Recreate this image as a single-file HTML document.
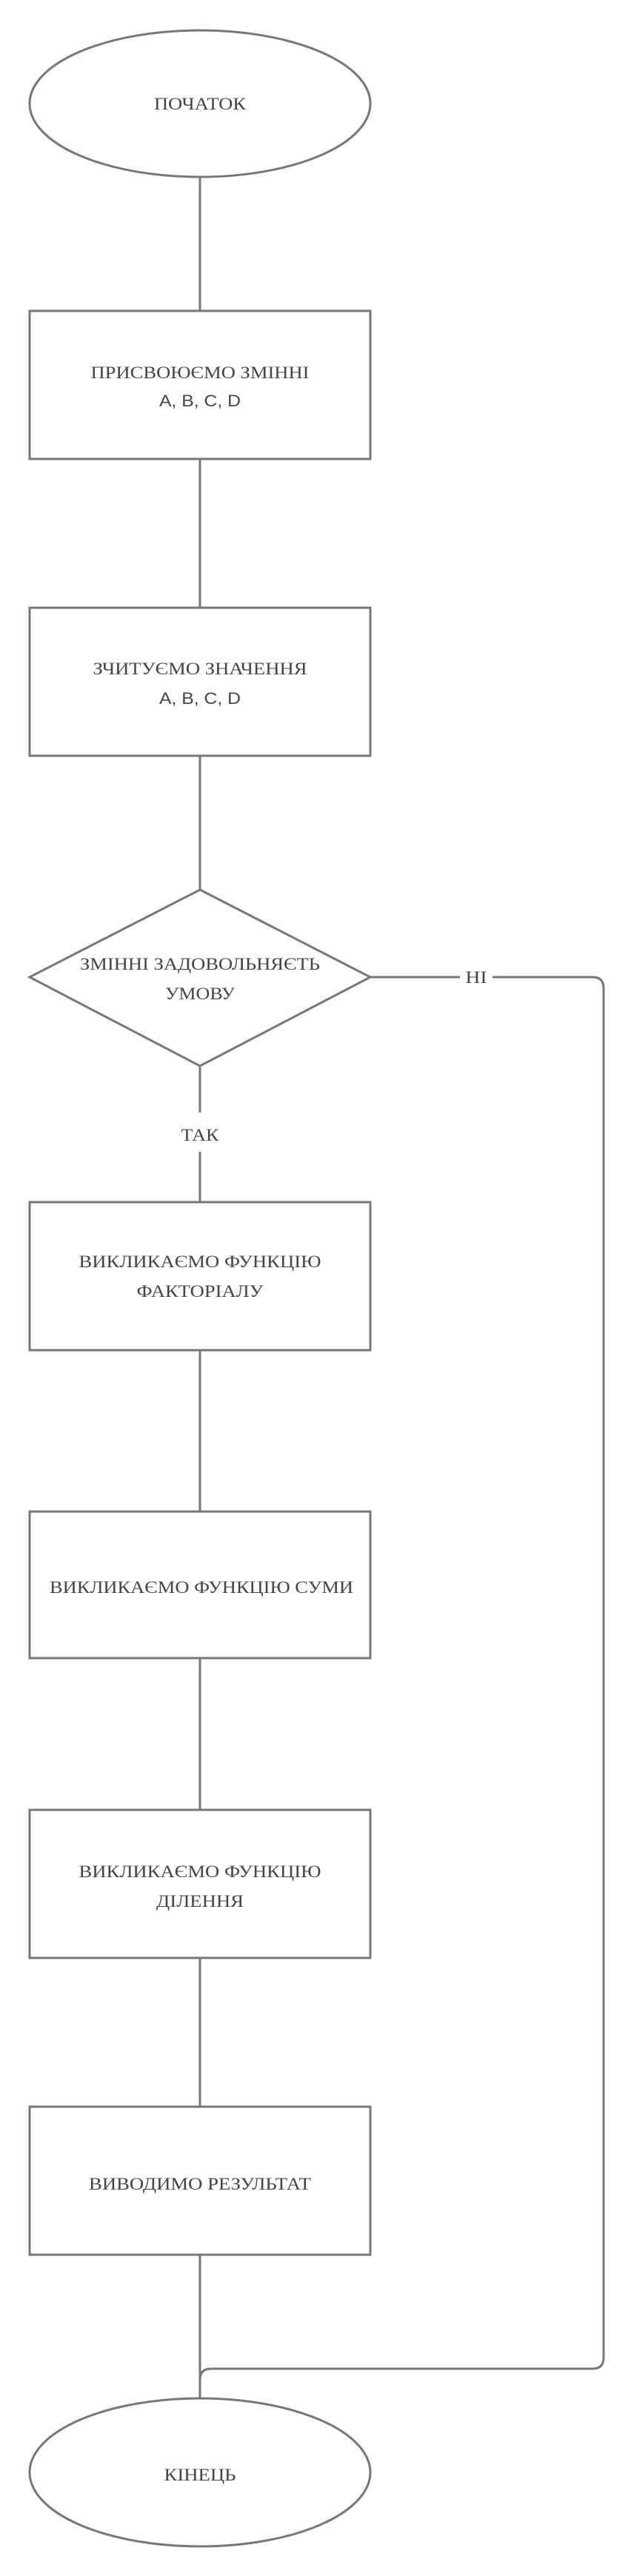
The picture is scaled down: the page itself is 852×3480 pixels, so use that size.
<!DOCTYPE html>
<html><head><meta charset="utf-8"><style>
html,body{margin:0;padding:0;background:#fff;}
svg{display:block;}
.s{fill:#fff;stroke:#777;stroke-width:3;}
.l{fill:none;stroke:#777;stroke-width:3;}
text{font-family:"Liberation Serif",serif;font-size:23px;fill:#444;text-anchor:middle;}
.sans{font-family:"Liberation Sans",sans-serif;font-size:22px;}
</style></head><body>
<svg width="852" height="3480" viewBox="0 0 852 3480" xmlns="http://www.w3.org/2000/svg">
<!-- connectors -->
<path class="l" d="M270 240V420 M270 620V821 M270 1021V1202 M270 1440V1503 M270 1556V1624 M270 1824V2042 M270 2240V2445 M270 2645V2846 M270 3046V3242"/>
<path class="l" d="M500 1320H621 M665 1320H800 Q815 1320 815 1335 V3185 Q815 3200 800 3200 H285 Q270 3200 270 3215"/>
<!-- shapes -->
<ellipse class="s" cx="270" cy="140" rx="230" ry="99"/>
<rect class="s" x="40" y="420" width="460" height="200"/>
<rect class="s" x="40" y="821" width="460" height="200"/>
<polygon class="s" points="270,1202 500,1320 270,1440 40,1320"/>
<rect class="s" x="40" y="1624" width="460" height="200"/>
<rect class="s" x="40" y="2042" width="460" height="198"/>
<rect class="s" x="40" y="2445" width="460" height="200"/>
<rect class="s" x="40" y="2846" width="460" height="200"/>
<ellipse class="s" cx="270" cy="3340" rx="230" ry="100"/>
<!-- labels -->
<text x="270" y="148" textLength="124" lengthAdjust="spacingAndGlyphs">ПОЧАТОК</text>
<text x="270" y="511" textLength="295" lengthAdjust="spacingAndGlyphs">ПРИСВОЮЄМО ЗМІННІ</text>
<text class="sans" x="270" y="549" textLength="110" lengthAdjust="spacingAndGlyphs">A, B, C, D</text>
<text x="270" y="911" textLength="289" lengthAdjust="spacingAndGlyphs">ЗЧИТУЄМО ЗНАЧЕННЯ</text>
<text class="sans" x="270" y="951" textLength="110" lengthAdjust="spacingAndGlyphs">A, B, C, D</text>
<text x="270" y="1310" textLength="324" lengthAdjust="spacingAndGlyphs">ЗМІННІ ЗАДОВОЛЬНЯЄТЬ</text>
<text x="270" y="1350" textLength="94" lengthAdjust="spacingAndGlyphs">УМОВУ</text>
<text x="643" y="1328" textLength="29" lengthAdjust="spacingAndGlyphs">НІ</text>
<text x="270" y="1541" textLength="51" lengthAdjust="spacingAndGlyphs">ТАК</text>
<text x="270" y="1712" textLength="327" lengthAdjust="spacingAndGlyphs">ВИКЛИКАЄМО ФУНКЦІЮ</text>
<text x="270" y="1752" textLength="171" lengthAdjust="spacingAndGlyphs">ФАКТОРІАЛУ</text>
<text x="272" y="2152" textLength="410" lengthAdjust="spacingAndGlyphs">ВИКЛИКАЄМО ФУНКЦІЮ СУМИ</text>
<text x="270" y="2536" textLength="327" lengthAdjust="spacingAndGlyphs">ВИКЛИКАЄМО ФУНКЦІЮ</text>
<text x="270" y="2576" textLength="118" lengthAdjust="spacingAndGlyphs">ДІЛЕННЯ</text>
<text x="270" y="2958" textLength="300" lengthAdjust="spacingAndGlyphs">ВИВОДИМО РЕЗУЛЬТАТ</text>
<text x="270" y="3351" textLength="97" lengthAdjust="spacingAndGlyphs">КІНЕЦЬ</text>
</svg>
</body></html>
